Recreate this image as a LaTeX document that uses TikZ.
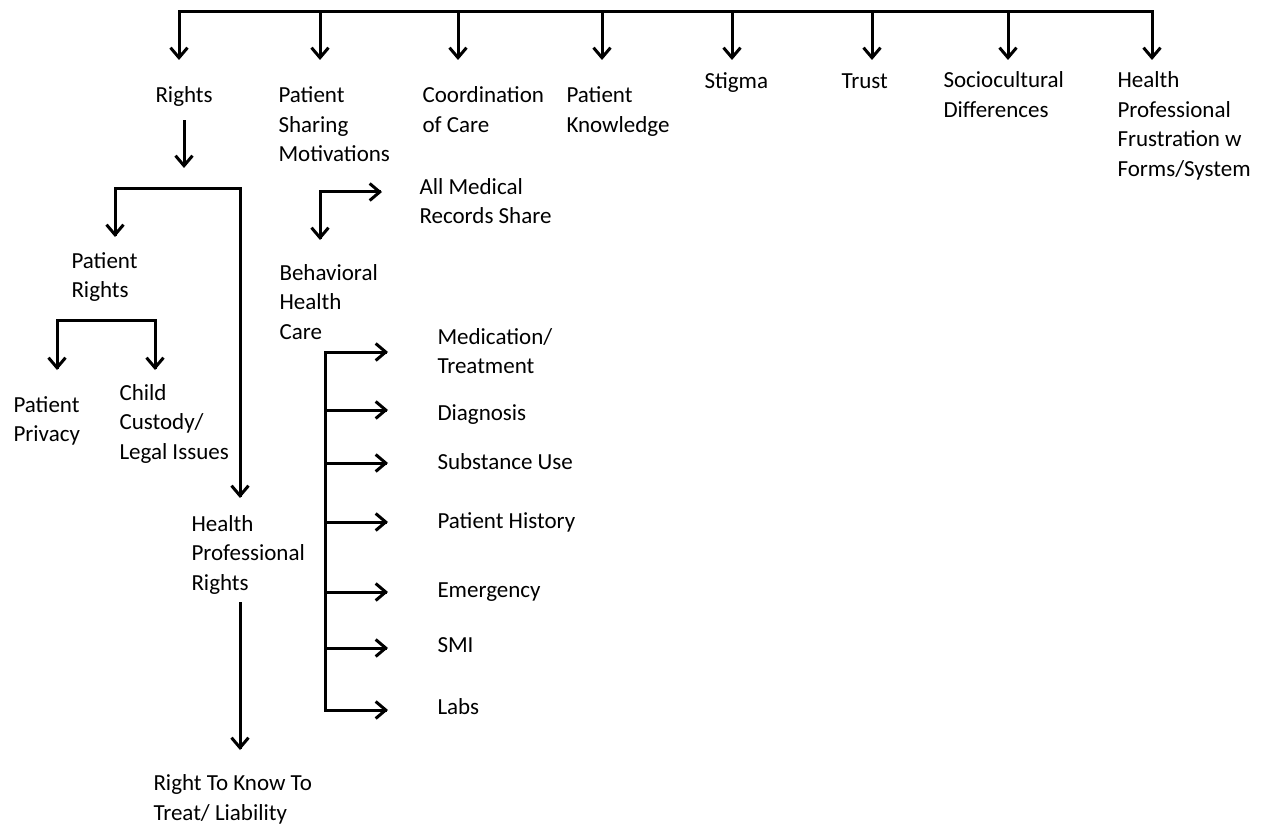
\documentclass[tikz,border=0pt]{standalone}
\usepackage{fontspec}
\setmainfont{Carlito}
\usetikzlibrary{arrows.meta}
\usetikzlibrary{calc,positioning}
\usetikzlibrary{decorations.markings}

\tikzset{
  >={Straight Barb[length=10pt,width=17pt]},
  arr/.style={
    decoration={markings,mark=at position 1 with {\arrow{>}}},
    postaction={decorate},
    shorten >=3pt
  },
  lbl/.style={anchor=base west,align=left,inner sep=0pt,
    font=\fontsize{23}{29.5}\selectfont},
}

\begin{document}
\begin{tikzpicture}[x=1pt,y=-1pt,line width=3pt,line cap=rect]
      \useasboundingbox (0,0) rectangle (1274,829);
      % top level
      \foreach \x [count=\i] in {179,320,458,602,732,872,1008,1152}
        \coordinate (top\i) at (\x,12);
      \draw (top1) -- (top8);
      \foreach \i in {1,...,8}
        \draw[arr] (top\i) -- ++(0,48);

      % base of the last line
      \node[lbl] (rights) at (154,103) {Rights};
      \node[lbl] (sharing) at (277,162) {Patient\\Sharing\\Motivations};
      \node[lbl] (coord) at (421,132.5) {Coordination\\of Care};
      \node[lbl] (knowledge) at (565,132.5) {Patient\\Knowledge};
      \node[lbl] (stigma) at (703,89) {Stigma};
      \node[lbl] (trust) at (840,89) {Trust};
      \node[lbl] (socio) at (942,117.5) {Sociocultural\\Differences};
      \node[lbl] (frustration) at (1116,176.5) {Health\\Professional\\Frustration w\\Forms/System};

      % rights branch
      \coordinate (rjoin) at (240,189);
      \coordinate (pjoin) at (106,320);
      \draw[arr] (184,122) -- (184,168);
      \draw[arr] (rjoin) -| (115,237);
      \draw[arr] (rjoin) -- (240,498);
      \node[lbl] (prights) at (70,297.5) {Patient\\Rights};
      \draw[arr] (pjoin) -| (57,370);
      \draw[arr] (pjoin) -| (155,370);
      \node[lbl] (privacy) at (12,441.5) {Patient\\Privacy};
      \node[lbl] (custody) at (118,459) {Child\\Custody/\\Legal Issues};
      \node[lbl] (hprights) at (190,590) {Health\\Professional\\Rights};
      \draw[arr] (240,603) -- (240,750);
      \node[lbl] (know) at (152,820) {Right To Know To\\Treat/ Liability};

      % sharing branch
      \coordinate (sjoin) at (320,192);
      \draw[arr] (sjoin) -- (320,240);
      \draw[arr] (sjoin) -- (382,192);
      \node[lbl] (allrec) at (418,224) {All Medical\\Records Share};
      \node[lbl] (bhc) at (278,339) {Behavioral\\Health\\Care};

      % behavioral health care list
      \draw (325,352) -- (325,710);
      \foreach \ay/\ly/\nm/\txt in {352/373.5/med/{Medication/\\Treatment},
          410/420/diag/{Diagnosis},463/469/subst/{Substance Use},
          522/528/hist/{Patient History},592/597/emerg/{Emergency},
          648/652/smi/{SMI},710/714/labs/{Labs}}{
        \node[lbl] (\nm) at (436,\ly) {\txt};
        \draw[arr] (325,\ay) -- (388,\ay);
      }
\end{tikzpicture}
\end{document}
